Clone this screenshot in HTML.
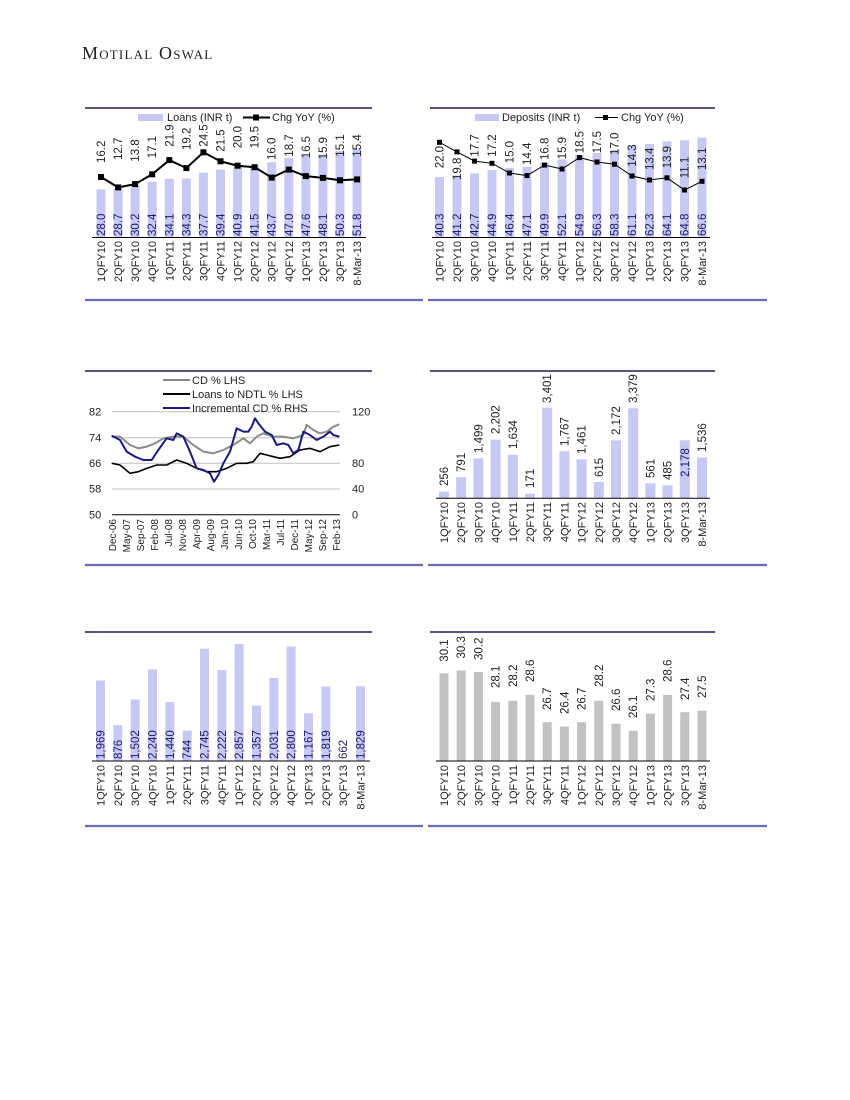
<!DOCTYPE html>
<html><head><meta charset="utf-8"><style>
html,body{margin:0;padding:0;background:#fff}
svg{display:block}
text{font-family:"Liberation Sans",sans-serif;font-size:11px;fill:#222}
.x{text-anchor:end}
.d{text-anchor:end;font-size:10px}
.v{fill:#1c1c6a;font-size:11.5px}
.t{font-size:11.5px}
.bl rect{fill:#c8c8f4}
.bg rect{fill:#c2c2c2}
</style></head><body>
<svg width="850" height="1100" viewBox="0 0 850 1100" xmlns="http://www.w3.org/2000/svg">
<text x="82" y="59" style="font-family:'Liberation Serif',serif;font-size:18px;font-variant:small-caps;letter-spacing:1.2px;fill:#222">Motilal Oswal</text>

<!-- frames -->
<g stroke="#1f1f5c" stroke-width="1.5">
<line x1="85" y1="108" x2="372" y2="108"/><line x1="430" y1="108" x2="715" y2="108"/>
<line x1="85" y1="371" x2="372" y2="371"/><line x1="430" y1="371" x2="715" y2="371"/>
<line x1="85" y1="632" x2="372" y2="632"/><line x1="430" y1="632" x2="715" y2="632"/>
</g>
<g stroke="#6c6cb4" stroke-width="2.2">
<line x1="85" y1="300" x2="423" y2="300"/><line x1="428" y1="300" x2="767" y2="300"/>
<line x1="85" y1="565" x2="423" y2="565"/><line x1="428" y1="565" x2="767" y2="565"/>
<line x1="85" y1="826" x2="423" y2="826"/><line x1="428" y1="826" x2="767" y2="826"/>
</g>

<!-- CHART 1 -->
<rect x="138" y="114" width="25" height="7" fill="#c8c8f4"/><text x="167" y="121">Loans (INR t)</text>
<line x1="243" y1="117.5" x2="270" y2="117.5" stroke="#000" stroke-width="2"/><rect x="253" y="114.5" width="6" height="6" fill="#000"/><text x="272" y="121">Chg YoY (%)</text>
<g class="bl">
<g transform="translate(101,0)"><rect x="-4.5" y="189.3" width="9" height="48.2"/><text class="v" transform="translate(4,236) rotate(-90)">28.0</text><text class="t" transform="translate(4,163) rotate(-90)">16.2</text><text class="x" transform="translate(4,241) rotate(-90)">1QFY10</text></g>
<g transform="translate(118.1,0)"><rect x="-4.5" y="188.1" width="9" height="49.4"/><text class="v" transform="translate(4,236) rotate(-90)">28.7</text><text class="t" transform="translate(4,160) rotate(-90)">12.7</text><text class="x" transform="translate(4,241) rotate(-90)">2QFY10</text></g>
<g transform="translate(135.1,0)"><rect x="-4.5" y="185.6" width="9" height="51.9"/><text class="v" transform="translate(4,236) rotate(-90)">30.2</text><text class="t" transform="translate(4,161.7) rotate(-90)">13.8</text><text class="x" transform="translate(4,241) rotate(-90)">3QFY10</text></g>
<g transform="translate(152.2,0)"><rect x="-4.5" y="181.8" width="9" height="55.7"/><text class="v" transform="translate(4,236) rotate(-90)">32.4</text><text class="t" transform="translate(4,158.3) rotate(-90)">17.1</text><text class="x" transform="translate(4,241) rotate(-90)">4QFY10</text></g>
<g transform="translate(169.3,0)"><rect x="-4.5" y="178.8" width="9" height="58.7"/><text class="v" transform="translate(4,236) rotate(-90)">34.1</text><text class="t" transform="translate(4,146.7) rotate(-90)">21.9</text><text class="x" transform="translate(4,241) rotate(-90)">1QFY11</text></g>
<g transform="translate(186.4,0)"><rect x="-4.5" y="178.5" width="9" height="59"/><text class="v" transform="translate(4,236) rotate(-90)">34.3</text><text class="t" transform="translate(4,150) rotate(-90)">19.2</text><text class="x" transform="translate(4,241) rotate(-90)">2QFY11</text></g>
<g transform="translate(203.4,0)"><rect x="-4.5" y="172.7" width="9" height="64.8"/><text class="v" transform="translate(4,236) rotate(-90)">37.7</text><text class="t" transform="translate(4,146.7) rotate(-90)">24.5</text><text class="x" transform="translate(4,241) rotate(-90)">3QFY11</text></g>
<g transform="translate(220.5,0)"><rect x="-4.5" y="169.7" width="9" height="67.8"/><text class="v" transform="translate(4,236) rotate(-90)">39.4</text><text class="t" transform="translate(4,151.7) rotate(-90)">21.5</text><text class="x" transform="translate(4,241) rotate(-90)">4QFY11</text></g>
<g transform="translate(237.6,0)"><rect x="-4.5" y="167.2" width="9" height="70.3"/><text class="v" transform="translate(4,236) rotate(-90)">40.9</text><text class="t" transform="translate(4,148.3) rotate(-90)">20.0</text><text class="x" transform="translate(4,241) rotate(-90)">1QFY12</text></g>
<g transform="translate(254.6,0)"><rect x="-4.5" y="166.1" width="9" height="71.4"/><text class="v" transform="translate(4,236) rotate(-90)">41.5</text><text class="t" transform="translate(4,148.3) rotate(-90)">19.5</text><text class="x" transform="translate(4,241) rotate(-90)">2QFY12</text></g>
<g transform="translate(271.7,0)"><rect x="-4.5" y="162.3" width="9" height="75.2"/><text class="v" transform="translate(4,236) rotate(-90)">43.7</text><text class="t" transform="translate(4,160) rotate(-90)">16.0</text><text class="x" transform="translate(4,241) rotate(-90)">3QFY12</text></g>
<g transform="translate(288.8,0)"><rect x="-4.5" y="158" width="9" height="79.5"/><text class="v" transform="translate(4,236) rotate(-90)">47.0</text><text class="t" transform="translate(4,156.7) rotate(-90)">18.7</text><text class="x" transform="translate(4,241) rotate(-90)">4QFY12</text></g>
<g transform="translate(305.8,0)"><rect x="-4.5" y="155.6" width="9" height="81.9"/><text class="v" transform="translate(4,236) rotate(-90)">47.6</text><text class="t" transform="translate(4,158.3) rotate(-90)">16.5</text><text class="x" transform="translate(4,241) rotate(-90)">1QFY13</text></g>
<g transform="translate(322.9,0)"><rect x="-4.5" y="154.8" width="9" height="82.7"/><text class="v" transform="translate(4,236) rotate(-90)">48.1</text><text class="t" transform="translate(4,159.3) rotate(-90)">15.9</text><text class="x" transform="translate(4,241) rotate(-90)">2QFY13</text></g>
<g transform="translate(340,0)"><rect x="-4.5" y="151" width="9" height="86.5"/><text class="v" transform="translate(4,236) rotate(-90)">50.3</text><text class="t" transform="translate(4,156.7) rotate(-90)">15.1</text><text class="x" transform="translate(4,241) rotate(-90)">3QFY13</text></g>
<g transform="translate(357.1,0)"><rect x="-4.5" y="148.4" width="9" height="89.1"/><text class="v" transform="translate(4,236) rotate(-90)">51.8</text><text class="t" transform="translate(4,156.7) rotate(-90)">15.4</text><text class="x" transform="translate(4,241) rotate(-90)">8-Mar-13</text></g>
</g>
<line x1="92" y1="237.5" x2="366" y2="237.5" stroke="#000" stroke-width="1"/>
<polyline fill="none" stroke="#000" stroke-width="2" points="101,177 118.1,187.4 135.1,184.1 152.2,174.3 169.3,160.1 186.4,168.1 203.4,152.3 220.5,161.3 237.6,165.7 254.6,167.2 271.7,177.6 288.8,169.6 305.8,176.1 322.9,177.9 340,180.3 357.1,179.4"/>
<g fill="#000">
<rect x="98" y="174" width="6" height="6"/><rect x="115.1" y="184.4" width="6" height="6"/><rect x="132.1" y="181.1" width="6" height="6"/><rect x="149.2" y="171.3" width="6" height="6"/><rect x="166.3" y="157.1" width="6" height="6"/><rect x="183.4" y="165.1" width="6" height="6"/><rect x="200.4" y="149.3" width="6" height="6"/><rect x="217.5" y="158.3" width="6" height="6"/><rect x="234.6" y="162.7" width="6" height="6"/><rect x="251.6" y="164.2" width="6" height="6"/><rect x="268.7" y="174.6" width="6" height="6"/><rect x="285.8" y="166.6" width="6" height="6"/><rect x="302.8" y="173.1" width="6" height="6"/><rect x="319.9" y="174.9" width="6" height="6"/><rect x="337" y="177.3" width="6" height="6"/><rect x="354.1" y="176.4" width="6" height="6"/>
</g>

<!-- CHART 2 -->
<rect x="475" y="114" width="24" height="7" fill="#c8c8f4"/><text x="502" y="121">Deposits (INR t)</text>
<line x1="595" y1="117.5" x2="618" y2="117.5" stroke="#000" stroke-width="1"/><rect x="603" y="115" width="5" height="5" fill="#000"/><text x="621" y="121">Chg YoY (%)</text>
<g class="bl">
<g transform="translate(439.5,0)"><rect x="-4.5" y="177" width="9" height="60.5"/><text class="v" transform="translate(4,236) rotate(-90)">40.3</text><text class="t" transform="translate(4,168.3) rotate(-90)">22.0</text><text class="x" transform="translate(4,241) rotate(-90)">1QFY10</text></g>
<g transform="translate(457,0)"><rect x="-4.5" y="175.7" width="9" height="61.8"/><text class="v" transform="translate(4,236) rotate(-90)">41.2</text><text class="t" transform="translate(4,180) rotate(-90)">19.8</text><text class="x" transform="translate(4,241) rotate(-90)">2QFY10</text></g>
<g transform="translate(474.5,0)"><rect x="-4.5" y="173.4" width="9" height="64.1"/><text class="v" transform="translate(4,236) rotate(-90)">42.7</text><text class="t" transform="translate(4,156.7) rotate(-90)">17.7</text><text class="x" transform="translate(4,241) rotate(-90)">3QFY10</text></g>
<g transform="translate(492,0)"><rect x="-4.5" y="170.1" width="9" height="67.4"/><text class="v" transform="translate(4,236) rotate(-90)">44.9</text><text class="t" transform="translate(4,156.7) rotate(-90)">17.2</text><text class="x" transform="translate(4,241) rotate(-90)">4QFY10</text></g>
<g transform="translate(509.5,0)"><rect x="-4.5" y="167.9" width="9" height="69.6"/><text class="v" transform="translate(4,236) rotate(-90)">46.4</text><text class="t" transform="translate(4,163.3) rotate(-90)">15.0</text><text class="x" transform="translate(4,241) rotate(-90)">1QFY11</text></g>
<g transform="translate(527,0)"><rect x="-4.5" y="166.8" width="9" height="70.7"/><text class="v" transform="translate(4,236) rotate(-90)">47.1</text><text class="t" transform="translate(4,165) rotate(-90)">14.4</text><text class="x" transform="translate(4,241) rotate(-90)">2QFY11</text></g>
<g transform="translate(544.5,0)"><rect x="-4.5" y="162.6" width="9" height="74.9"/><text class="v" transform="translate(4,236) rotate(-90)">49.9</text><text class="t" transform="translate(4,160) rotate(-90)">16.8</text><text class="x" transform="translate(4,241) rotate(-90)">3QFY11</text></g>
<g transform="translate(562,0)"><rect x="-4.5" y="159.3" width="9" height="78.2"/><text class="v" transform="translate(4,236) rotate(-90)">52.1</text><text class="t" transform="translate(4,159.3) rotate(-90)">15.9</text><text class="x" transform="translate(4,241) rotate(-90)">4QFY11</text></g>
<g transform="translate(579.5,0)"><rect x="-4.5" y="155.1" width="9" height="82.4"/><text class="v" transform="translate(4,236) rotate(-90)">54.9</text><text class="t" transform="translate(4,153.3) rotate(-90)">18.5</text><text class="x" transform="translate(4,241) rotate(-90)">1QFY12</text></g>
<g transform="translate(597,0)"><rect x="-4.5" y="153" width="9" height="84.5"/><text class="v" transform="translate(4,236) rotate(-90)">56.3</text><text class="t" transform="translate(4,153.3) rotate(-90)">17.5</text><text class="x" transform="translate(4,241) rotate(-90)">2QFY12</text></g>
<g transform="translate(614.5,0)"><rect x="-4.5" y="150" width="9" height="87.5"/><text class="v" transform="translate(4,236) rotate(-90)">58.3</text><text class="t" transform="translate(4,155) rotate(-90)">17.0</text><text class="x" transform="translate(4,241) rotate(-90)">3QFY12</text></g>
<g transform="translate(632,0)"><rect x="-4.5" y="145.8" width="9" height="91.7"/><text class="v" transform="translate(4,236) rotate(-90)">61.1</text><text class="t" transform="translate(4,166.7) rotate(-90)">14.3</text><text class="x" transform="translate(4,241) rotate(-90)">4QFY12</text></g>
<g transform="translate(649.5,0)"><rect x="-4.5" y="144" width="9" height="93.5"/><text class="v" transform="translate(4,236) rotate(-90)">62.3</text><text class="t" transform="translate(4,170) rotate(-90)">13.4</text><text class="x" transform="translate(4,241) rotate(-90)">1QFY13</text></g>
<g transform="translate(667,0)"><rect x="-4.5" y="141.3" width="9" height="96.2"/><text class="v" transform="translate(4,236) rotate(-90)">64.1</text><text class="t" transform="translate(4,168.3) rotate(-90)">13.9</text><text class="x" transform="translate(4,241) rotate(-90)">2QFY13</text></g>
<g transform="translate(684.5,0)"><rect x="-4.5" y="140.3" width="9" height="97.2"/><text class="v" transform="translate(4,236) rotate(-90)">64.8</text><text class="t" transform="translate(4,178.3) rotate(-90)">11.1</text><text class="x" transform="translate(4,241) rotate(-90)">3QFY13</text></g>
<g transform="translate(702,0)"><rect x="-4.5" y="137.6" width="9" height="99.9"/><text class="v" transform="translate(4,236) rotate(-90)">66.6</text><text class="t" transform="translate(4,170) rotate(-90)">13.1</text><text class="x" transform="translate(4,241) rotate(-90)">8-Mar-13</text></g>
</g>
<line x1="432" y1="237.5" x2="710" y2="237.5" stroke="#000" stroke-width="1"/>
<polyline fill="none" stroke="#000" stroke-width="1" points="439.5,142.3 457,151.9 474.5,161.1 492,163.3 509.5,173 527,175.6 544.5,165.1 562,169 579.5,157.6 597,162 614.5,164.2 632,176 649.5,180 667,177.8 684.5,190 702,181.3"/>
<g fill="#000">
<rect x="437" y="139.8" width="5" height="5"/><rect x="454.5" y="149.4" width="5" height="5"/><rect x="472" y="158.6" width="5" height="5"/><rect x="489.5" y="160.8" width="5" height="5"/><rect x="507" y="170.5" width="5" height="5"/><rect x="524.5" y="173.1" width="5" height="5"/><rect x="542" y="162.6" width="5" height="5"/><rect x="559.5" y="166.5" width="5" height="5"/><rect x="577" y="155.1" width="5" height="5"/><rect x="594.5" y="159.5" width="5" height="5"/><rect x="612" y="161.7" width="5" height="5"/><rect x="629.5" y="173.5" width="5" height="5"/><rect x="647" y="177.5" width="5" height="5"/><rect x="664.5" y="175.3" width="5" height="5"/><rect x="682" y="187.5" width="5" height="5"/><rect x="699.5" y="178.8" width="5" height="5"/>
</g>

<!-- CHART 3 -->
<g stroke="#c0c0c0" stroke-width="1">
<line x1="112" y1="411.7" x2="340" y2="411.7"/><line x1="112" y1="437.7" x2="340" y2="437.7"/><line x1="112" y1="463.3" x2="340" y2="463.3"/><line x1="112" y1="489" x2="340" y2="489"/>
</g>
<line x1="112" y1="514.7" x2="340" y2="514.7" stroke="#000" stroke-width="1"/>
<text x="89" y="415.5">82</text><text x="89" y="441.5">74</text><text x="89" y="467">66</text><text x="89" y="492.7">58</text><text x="89" y="518.4">50</text>
<text x="352" y="415.5">120</text><text x="352" y="467">80</text><text x="352" y="492.7">40</text><text x="352" y="518.4">0</text>
<line x1="163" y1="380" x2="190" y2="380" stroke="#888" stroke-width="2"/><text x="192" y="384">CD % LHS</text>
<line x1="163" y1="394" x2="190" y2="394" stroke="#000" stroke-width="2"/><text x="192" y="398">Loans to NDTL % LHS</text>
<line x1="163" y1="408" x2="190" y2="408" stroke="#1a1a80" stroke-width="2"/><text x="192" y="412">Incremental CD % RHS</text>
<g transform="translate(80,365) scale(0.33333)" fill="none" stroke-linejoin="round">
<polyline vector-effect="non-scaling-stroke" stroke="#8c8c8c" stroke-width="2" points="95,215 120,215 150,240 175,250 200,245 225,235 250,220 280,215 310,215 340,240 370,260 400,265 430,255 460,240 490,220 510,235 530,215 550,205 580,215 610,215 640,220 670,210 680,180 700,195 720,205 740,200 760,185 778,178"/>
<polyline vector-effect="non-scaling-stroke" stroke="#000" stroke-width="1.6" points="95,295 120,300 150,325 175,320 200,310 230,300 260,300 290,285 320,295 350,310 380,320 410,320 440,310 470,295 500,295 520,290 540,265 560,270 580,275 600,280 630,275 660,255 690,250 720,260 750,245 778,240"/>
<polyline vector-effect="non-scaling-stroke" stroke="#1a1a80" stroke-width="2" points="95,212 120,225 140,260 165,275 190,285 215,285 235,255 260,220 280,225 290,205 310,215 330,260 350,310 370,315 390,325 402,350 415,330 430,295 450,260 470,190 490,200 505,200 515,185 525,160 535,175 555,200 575,210 590,240 610,235 625,240 640,265 655,255 670,200 690,210 710,225 730,215 750,200 760,210 778,215"/>
</g>
<text class="d" transform="translate(116,519) rotate(-90)">Dec-06</text>
<text class="d" transform="translate(130,519) rotate(-90)">May-07</text>
<text class="d" transform="translate(144,519) rotate(-90)">Sep-07</text>
<text class="d" transform="translate(158,519) rotate(-90)">Feb-08</text>
<text class="d" transform="translate(172,519) rotate(-90)">Jul-08</text>
<text class="d" transform="translate(186,519) rotate(-90)">Nov-08</text>
<text class="d" transform="translate(200,519) rotate(-90)">Apr-09</text>
<text class="d" transform="translate(214,519) rotate(-90)">Aug-09</text>
<text class="d" transform="translate(228,519) rotate(-90)">Jan-10</text>
<text class="d" transform="translate(242,519) rotate(-90)">Jun-10</text>
<text class="d" transform="translate(256,519) rotate(-90)">Oct-10</text>
<text class="d" transform="translate(270,519) rotate(-90)">Mar-11</text>
<text class="d" transform="translate(284,519) rotate(-90)">Jul-11</text>
<text class="d" transform="translate(298,519) rotate(-90)">Dec-11</text>
<text class="d" transform="translate(312,519) rotate(-90)">May-12</text>
<text class="d" transform="translate(326,519) rotate(-90)">Sep-12</text>
<text class="d" transform="translate(340,519) rotate(-90)">Feb-13</text>

<!-- CHART 4 -->
<g class="bl">
<g transform="translate(444,0)"><rect x="-5" y="491.5" width="10" height="6.8"/><text class="t" transform="translate(4,486) rotate(-90)">256</text><text class="x" transform="translate(4,502) rotate(-90)">1QFY10</text></g>
<g transform="translate(461.2,0)"><rect x="-5" y="477.2" width="10" height="21.1"/><text class="t" transform="translate(4,472) rotate(-90)">791</text><text class="x" transform="translate(4,502) rotate(-90)">2QFY10</text></g>
<g transform="translate(478.4,0)"><rect x="-5" y="458.3" width="10" height="40"/><text class="t" transform="translate(4,453) rotate(-90)">1,499</text><text class="x" transform="translate(4,502) rotate(-90)">3QFY10</text></g>
<g transform="translate(495.6,0)"><rect x="-5" y="439.6" width="10" height="58.7"/><text class="t" transform="translate(4,434) rotate(-90)">2,202</text><text class="x" transform="translate(4,502) rotate(-90)">4QFY10</text></g>
<g transform="translate(512.8,0)"><rect x="-5" y="454.8" width="10" height="43.5"/><text class="t" transform="translate(4,449) rotate(-90)">1,634</text><text class="x" transform="translate(4,502) rotate(-90)">1QFY11</text></g>
<g transform="translate(530,0)"><rect x="-5" y="493.7" width="10" height="4.6"/><text class="t" transform="translate(4,488) rotate(-90)">171</text><text class="x" transform="translate(4,502) rotate(-90)">2QFY11</text></g>
<g transform="translate(547.2,0)"><rect x="-5" y="407.7" width="10" height="90.6"/><text class="t" transform="translate(4,403) rotate(-90)">3,401</text><text class="x" transform="translate(4,502) rotate(-90)">3QFY11</text></g>
<g transform="translate(564.4,0)"><rect x="-5" y="451.2" width="10" height="47.1"/><text class="t" transform="translate(4,446) rotate(-90)">1,767</text><text class="x" transform="translate(4,502) rotate(-90)">4QFY11</text></g>
<g transform="translate(581.6,0)"><rect x="-5" y="459.4" width="10" height="38.9"/><text class="t" transform="translate(4,454) rotate(-90)">1,461</text><text class="x" transform="translate(4,502) rotate(-90)">1QFY12</text></g>
<g transform="translate(598.8,0)"><rect x="-5" y="481.9" width="10" height="16.4"/><text class="t" transform="translate(4,477) rotate(-90)">615</text><text class="x" transform="translate(4,502) rotate(-90)">2QFY12</text></g>
<g transform="translate(616,0)"><rect x="-5" y="440.4" width="10" height="57.9"/><text class="t" transform="translate(4,435) rotate(-90)">2,172</text><text class="x" transform="translate(4,502) rotate(-90)">3QFY12</text></g>
<g transform="translate(633.2,0)"><rect x="-5" y="408.3" width="10" height="90"/><text class="t" transform="translate(4,403) rotate(-90)">3,379</text><text class="x" transform="translate(4,502) rotate(-90)">4QFY12</text></g>
<g transform="translate(650.4,0)"><rect x="-5" y="483.3" width="10" height="15"/><text class="t" transform="translate(4,478) rotate(-90)">561</text><text class="x" transform="translate(4,502) rotate(-90)">1QFY13</text></g>
<g transform="translate(667.6,0)"><rect x="-5" y="485.4" width="10" height="12.9"/><text class="t" transform="translate(4,480) rotate(-90)">485</text><text class="x" transform="translate(4,502) rotate(-90)">2QFY13</text></g>
<g transform="translate(684.8,0)"><rect x="-5" y="440.3" width="10" height="58"/><text class="v" transform="translate(4,477) rotate(-90)">2,178</text><text class="x" transform="translate(4,502) rotate(-90)">3QFY13</text></g>
<g transform="translate(702,0)"><rect x="-5" y="457.4" width="10" height="40.9"/><text class="t" transform="translate(4,452) rotate(-90)">1,536</text><text class="x" transform="translate(4,502) rotate(-90)">8-Mar-13</text></g>
</g>
<line x1="436" y1="498.3" x2="710" y2="498.3" stroke="#000" stroke-width="1"/>

<!-- CHART 5 -->
<g class="bl">
<g transform="translate(100.5,0)"><rect x="-4.5" y="680.5" width="9" height="80.5"/><text class="v" transform="translate(4,759) rotate(-90)">1,969</text><text class="x" transform="translate(4,765) rotate(-90)">1QFY10</text></g>
<g transform="translate(117.8,0)"><rect x="-4.5" y="725.2" width="9" height="35.8"/><text class="v" transform="translate(4,759) rotate(-90)">876</text><text class="x" transform="translate(4,765) rotate(-90)">2QFY10</text></g>
<g transform="translate(135.2,0)"><rect x="-4.5" y="699.6" width="9" height="61.4"/><text class="v" transform="translate(4,759) rotate(-90)">1,502</text><text class="x" transform="translate(4,765) rotate(-90)">3QFY10</text></g>
<g transform="translate(152.5,0)"><rect x="-4.5" y="669.4" width="9" height="91.6"/><text class="v" transform="translate(4,759) rotate(-90)">2,240</text><text class="x" transform="translate(4,765) rotate(-90)">4QFY10</text></g>
<g transform="translate(169.8,0)"><rect x="-4.5" y="702.1" width="9" height="58.9"/><text class="v" transform="translate(4,759) rotate(-90)">1,440</text><text class="x" transform="translate(4,765) rotate(-90)">1QFY11</text></g>
<g transform="translate(187.2,0)"><rect x="-4.5" y="730.6" width="9" height="30.4"/><text class="v" transform="translate(4,759) rotate(-90)">744</text><text class="x" transform="translate(4,765) rotate(-90)">2QFY11</text></g>
<g transform="translate(204.5,0)"><rect x="-4.5" y="648.7" width="9" height="112.3"/><text class="v" transform="translate(4,759) rotate(-90)">2,745</text><text class="x" transform="translate(4,765) rotate(-90)">3QFY11</text></g>
<g transform="translate(221.8,0)"><rect x="-4.5" y="670.1" width="9" height="90.9"/><text class="v" transform="translate(4,759) rotate(-90)">2,222</text><text class="x" transform="translate(4,765) rotate(-90)">4QFY11</text></g>
<g transform="translate(239.1,0)"><rect x="-4.5" y="644.1" width="9" height="116.9"/><text class="v" transform="translate(4,759) rotate(-90)">2,857</text><text class="x" transform="translate(4,765) rotate(-90)">1QFY12</text></g>
<g transform="translate(256.5,0)"><rect x="-4.5" y="705.5" width="9" height="55.5"/><text class="v" transform="translate(4,759) rotate(-90)">1,357</text><text class="x" transform="translate(4,765) rotate(-90)">2QFY12</text></g>
<g transform="translate(273.8,0)"><rect x="-4.5" y="677.9" width="9" height="83.1"/><text class="v" transform="translate(4,759) rotate(-90)">2,031</text><text class="x" transform="translate(4,765) rotate(-90)">3QFY12</text></g>
<g transform="translate(291.1,0)"><rect x="-4.5" y="646.5" width="9" height="114.5"/><text class="v" transform="translate(4,759) rotate(-90)">2,800</text><text class="x" transform="translate(4,765) rotate(-90)">4QFY12</text></g>
<g transform="translate(308.5,0)"><rect x="-4.5" y="713.3" width="9" height="47.7"/><text class="v" transform="translate(4,759) rotate(-90)">1,167</text><text class="x" transform="translate(4,765) rotate(-90)">1QFY13</text></g>
<g transform="translate(325.8,0)"><rect x="-4.5" y="686.6" width="9" height="74.4"/><text class="v" transform="translate(4,759) rotate(-90)">1,819</text><text class="x" transform="translate(4,765) rotate(-90)">2QFY13</text></g>
<g transform="translate(343.1,0)"><text class="v" transform="translate(4,759) rotate(-90)">662</text><text class="x" transform="translate(4,765) rotate(-90)">3QFY13</text></g>
<g transform="translate(360.5,0)"><rect x="-4.5" y="686.2" width="9" height="74.8"/><text class="v" transform="translate(4,759) rotate(-90)">1,829</text><text class="x" transform="translate(4,765) rotate(-90)">8-Mar-13</text></g>
</g>
<line x1="92" y1="761" x2="370" y2="761" stroke="#000" stroke-width="1"/>

<!-- CHART 6 -->
<g class="bg">
<g transform="translate(444,0)"><rect x="-4.5" y="673.4" width="9" height="87.6"/><text class="t" transform="translate(4,661.7) rotate(-90)">30.1</text><text class="x" transform="translate(4,765) rotate(-90)">1QFY10</text></g>
<g transform="translate(461.2,0)"><rect x="-4.5" y="670.5" width="9" height="90.5"/><text class="t" transform="translate(4,658.5) rotate(-90)">30.3</text><text class="x" transform="translate(4,765) rotate(-90)">2QFY10</text></g>
<g transform="translate(478.4,0)"><rect x="-4.5" y="672" width="9" height="89"/><text class="t" transform="translate(4,660) rotate(-90)">30.2</text><text class="x" transform="translate(4,765) rotate(-90)">3QFY10</text></g>
<g transform="translate(495.6,0)"><rect x="-4.5" y="702.1" width="9" height="58.9"/><text class="t" transform="translate(4,688) rotate(-90)">28.1</text><text class="x" transform="translate(4,765) rotate(-90)">4QFY10</text></g>
<g transform="translate(512.8,0)"><rect x="-4.5" y="700.7" width="9" height="60.3"/><text class="t" transform="translate(4,687) rotate(-90)">28.2</text><text class="x" transform="translate(4,765) rotate(-90)">1QFY11</text></g>
<g transform="translate(530,0)"><rect x="-4.5" y="694.9" width="9" height="66.1"/><text class="t" transform="translate(4,682) rotate(-90)">28.6</text><text class="x" transform="translate(4,765) rotate(-90)">2QFY11</text></g>
<g transform="translate(547.2,0)"><rect x="-4.5" y="722.2" width="9" height="38.8"/><text class="t" transform="translate(4,710) rotate(-90)">26.7</text><text class="x" transform="translate(4,765) rotate(-90)">3QFY11</text></g>
<g transform="translate(564.4,0)"><rect x="-4.5" y="726.5" width="9" height="34.5"/><text class="t" transform="translate(4,714) rotate(-90)">26.4</text><text class="x" transform="translate(4,765) rotate(-90)">4QFY11</text></g>
<g transform="translate(581.6,0)"><rect x="-4.5" y="722.2" width="9" height="38.8"/><text class="t" transform="translate(4,710) rotate(-90)">26.7</text><text class="x" transform="translate(4,765) rotate(-90)">1QFY12</text></g>
<g transform="translate(598.8,0)"><rect x="-4.5" y="700.7" width="9" height="60.3"/><text class="t" transform="translate(4,687) rotate(-90)">28.2</text><text class="x" transform="translate(4,765) rotate(-90)">2QFY12</text></g>
<g transform="translate(616,0)"><rect x="-4.5" y="723.7" width="9" height="37.3"/><text class="t" transform="translate(4,711) rotate(-90)">26.6</text><text class="x" transform="translate(4,765) rotate(-90)">3QFY12</text></g>
<g transform="translate(633.2,0)"><rect x="-4.5" y="730.8" width="9" height="30.2"/><text class="t" transform="translate(4,718) rotate(-90)">26.1</text><text class="x" transform="translate(4,765) rotate(-90)">4QFY12</text></g>
<g transform="translate(650.4,0)"><rect x="-4.5" y="713.6" width="9" height="47.4"/><text class="t" transform="translate(4,701) rotate(-90)">27.3</text><text class="x" transform="translate(4,765) rotate(-90)">1QFY13</text></g>
<g transform="translate(667.6,0)"><rect x="-4.5" y="694.9" width="9" height="66.1"/><text class="t" transform="translate(4,682) rotate(-90)">28.6</text><text class="x" transform="translate(4,765) rotate(-90)">2QFY13</text></g>
<g transform="translate(684.8,0)"><rect x="-4.5" y="712.2" width="9" height="48.8"/><text class="t" transform="translate(4,700) rotate(-90)">27.4</text><text class="x" transform="translate(4,765) rotate(-90)">3QFY13</text></g>
<g transform="translate(702,0)"><rect x="-4.5" y="710.7" width="9" height="50.3"/><text class="t" transform="translate(4,698) rotate(-90)">27.5</text><text class="x" transform="translate(4,765) rotate(-90)">8-Mar-13</text></g>
</g>
<line x1="436" y1="761" x2="710" y2="761" stroke="#000" stroke-width="1"/>
</svg>
</body></html>
